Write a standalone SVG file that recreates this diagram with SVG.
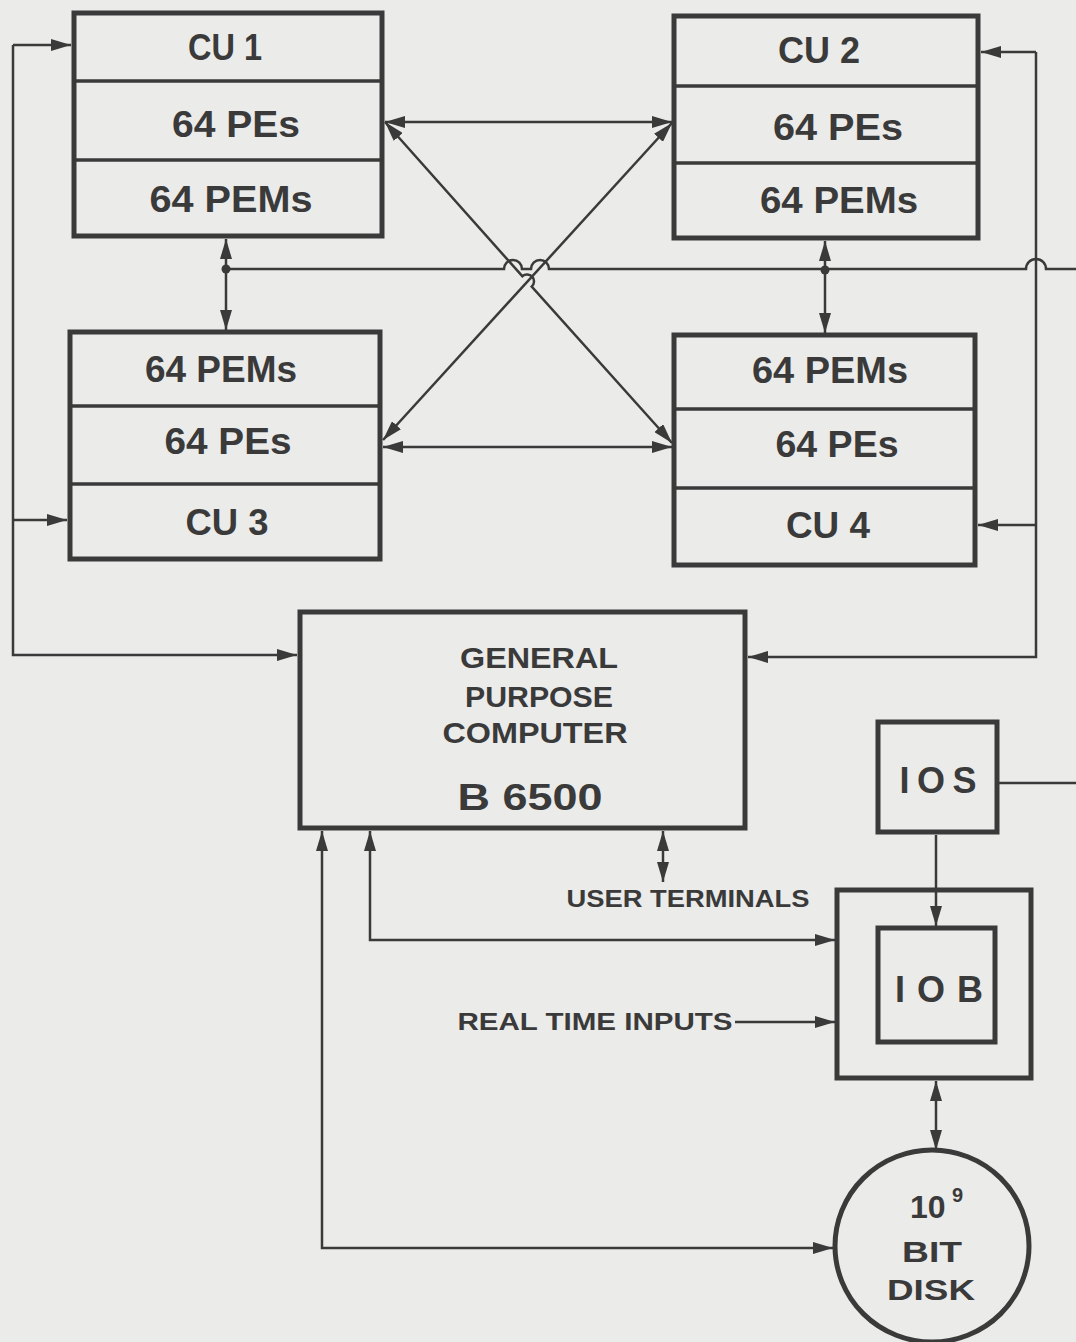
<svg xmlns="http://www.w3.org/2000/svg" width="1076" height="1342" viewBox="0 0 1076 1342">
<style>
.bx{fill:none;stroke:#3a3a3a;stroke-width:5}
.dv{fill:none;stroke:#3a3a3a;stroke-width:3.5}
.cn{fill:none;stroke:#3a3a3a;stroke-width:2.5}
.t{font-family:"Liberation Sans",Arial,sans-serif;font-weight:bold;fill:#3a3a3a;text-anchor:middle}
.L{font-size:36px}
.M{font-size:30px}
.S{font-size:24px}
</style>
<defs>
<marker id="ah" viewBox="0 0 20 12" refX="20" refY="6" markerWidth="20" markerHeight="12" markerUnits="userSpaceOnUse" orient="auto-start-reverse">
<path d="M0,0 L20,6 L0,12 z" fill="#3a3a3a"/>
</marker>
</defs>
<rect width="1076" height="1342" fill="#ebebea"/>

<g id="connectors">
<path class="cn" d="M13,45 V655 H297" marker-end="url(#ah)"/>
<path class="cn" d="M13,45 H71" marker-end="url(#ah)"/>
<path class="cn" d="M13,520 H67" marker-end="url(#ah)"/>
<path class="cn" d="M1036,52 V657 H748" marker-end="url(#ah)"/>
<path class="cn" d="M1036,52 H981" marker-end="url(#ah)"/>
<path class="cn" d="M1036,525 H978" marker-end="url(#ah)"/>
<path class="cn" d="M226,269 H504 A9,9 0 0 1 522,269 H531 A9,9 0 0 1 549,269 H1026 A10,10 0 0 1 1046,269 H1076"/>
<circle cx="226" cy="269" r="4.5" fill="#3a3a3a"/>
<circle cx="825" cy="270" r="4.5" fill="#3a3a3a"/>
<path class="cn" d="M226,239 V330" marker-start="url(#ah)" marker-end="url(#ah)"/>
<path class="cn" d="M825,241 V333" marker-start="url(#ah)" marker-end="url(#ah)"/>
<path class="cn" d="M385,122 H672" marker-start="url(#ah)" marker-end="url(#ah)"/>
<path class="cn" d="M383,447 H672" marker-start="url(#ah)" marker-end="url(#ah)"/>
<path class="cn" d="M385,122 L522.3,276.2 A7,7 0 0 1 531.7,286.6 L672,443" marker-start="url(#ah)" marker-end="url(#ah)"/>
<path class="cn" d="M672,123 L383,440" marker-start="url(#ah)" marker-end="url(#ah)"/>
<path class="cn" d="M322,831 V1248 H833" marker-start="url(#ah)" marker-end="url(#ah)"/>
<path class="cn" d="M370,831 V940 H835" marker-start="url(#ah)" marker-end="url(#ah)"/>
<path class="cn" d="M663,831 V882" marker-start="url(#ah)" marker-end="url(#ah)"/>
<path class="cn" d="M936,835 V926" marker-end="url(#ah)"/>
<path class="cn" d="M999,783 H1076"/>
<path class="cn" d="M735,1022 H835" marker-end="url(#ah)"/>
<path class="cn" d="M936,1081 V1150" marker-start="url(#ah)" marker-end="url(#ah)"/>
</g>

<g id="cu1">
<rect class="bx" x="74" y="13" width="308" height="223"/>
<line class="dv" x1="74" y1="81" x2="382" y2="81"/>
<line class="dv" x1="74" y1="160" x2="382" y2="160"/>
<text class="t L" x="225" y="60" textLength="74" lengthAdjust="spacingAndGlyphs">CU 1</text>
<text class="t L" x="236" y="137" textLength="128" lengthAdjust="spacingAndGlyphs">64 PEs</text>
<text class="t L" x="231" y="212" textLength="163" lengthAdjust="spacingAndGlyphs">64 PEMs</text>
</g>

<g id="cu2">
<rect class="bx" x="674" y="16" width="304" height="222"/>
<line class="dv" x1="674" y1="86" x2="978" y2="86"/>
<line class="dv" x1="674" y1="163" x2="978" y2="163"/>
<text class="t L" x="819" y="63" textLength="82" lengthAdjust="spacingAndGlyphs">CU 2</text>
<text class="t L" x="838" y="140" textLength="130" lengthAdjust="spacingAndGlyphs">64 PEs</text>
<text class="t L" x="839" y="213" textLength="158" lengthAdjust="spacingAndGlyphs">64 PEMs</text>
</g>

<g id="cu3">
<rect class="bx" x="70" y="332" width="310" height="227"/>
<line class="dv" x1="70" y1="406" x2="380" y2="406"/>
<line class="dv" x1="70" y1="484" x2="380" y2="484"/>
<text class="t L" x="221" y="382" textLength="152" lengthAdjust="spacingAndGlyphs">64 PEMs</text>
<text class="t L" x="228" y="454" textLength="127" lengthAdjust="spacingAndGlyphs">64 PEs</text>
<text class="t L" x="227" y="535" textLength="83" lengthAdjust="spacingAndGlyphs">CU 3</text>
</g>

<g id="cu4">
<rect class="bx" x="674" y="335" width="301" height="230"/>
<line class="dv" x1="674" y1="409" x2="975" y2="409"/>
<line class="dv" x1="674" y1="488" x2="975" y2="488"/>
<text class="t L" x="830" y="383" textLength="156" lengthAdjust="spacingAndGlyphs">64 PEMs</text>
<text class="t L" x="837" y="457" textLength="123" lengthAdjust="spacingAndGlyphs">64 PEs</text>
<text class="t L" x="828" y="538" textLength="84" lengthAdjust="spacingAndGlyphs">CU 4</text>
</g>

<g id="gpc">
<rect class="bx" x="300" y="612" width="445" height="216"/>
<text class="t M" x="539" y="668" textLength="158" lengthAdjust="spacingAndGlyphs">GENERAL</text>
<text class="t M" x="539" y="707" textLength="148" lengthAdjust="spacingAndGlyphs">PURPOSE</text>
<text class="t M" x="535" y="743" textLength="185" lengthAdjust="spacingAndGlyphs">COMPUTER</text>
<text class="t L" x="530" y="810" textLength="145" lengthAdjust="spacingAndGlyphs">B 6500</text>
</g>

<g id="user-terminals">
<text class="t S" x="688" y="907" textLength="243" lengthAdjust="spacingAndGlyphs">USER TERMINALS</text>
</g>

<g id="real-time-inputs">
<text class="t S" x="595" y="1030" textLength="275" lengthAdjust="spacingAndGlyphs">REAL TIME INPUTS</text>
</g>

<g id="ios">
<rect class="bx" x="878" y="722" width="119" height="110"/>
<text class="t L" x="938" y="793" textLength="77" lengthAdjust="spacing">IOS</text>
</g>

<g id="iob">
<rect class="bx" x="837" y="890" width="194" height="188"/>
<rect class="bx" x="878" y="928" width="117" height="114"/>
<text class="t L" x="939" y="1002" textLength="88" lengthAdjust="spacing">IOB</text>
</g>

<g id="disk">
<ellipse class="bx" cx="932" cy="1246" rx="97" ry="96"/>
<text class="t" style="text-anchor:start;font-size:32px" x="910" y="1218">10<tspan x="952" y="1202" font-size="20">9</tspan></text>
<text class="t M" x="932" y="1262" textLength="60" lengthAdjust="spacingAndGlyphs">BIT</text>
<text class="t M" x="931" y="1300" textLength="88" lengthAdjust="spacingAndGlyphs">DISK</text>
</g>
</svg>
